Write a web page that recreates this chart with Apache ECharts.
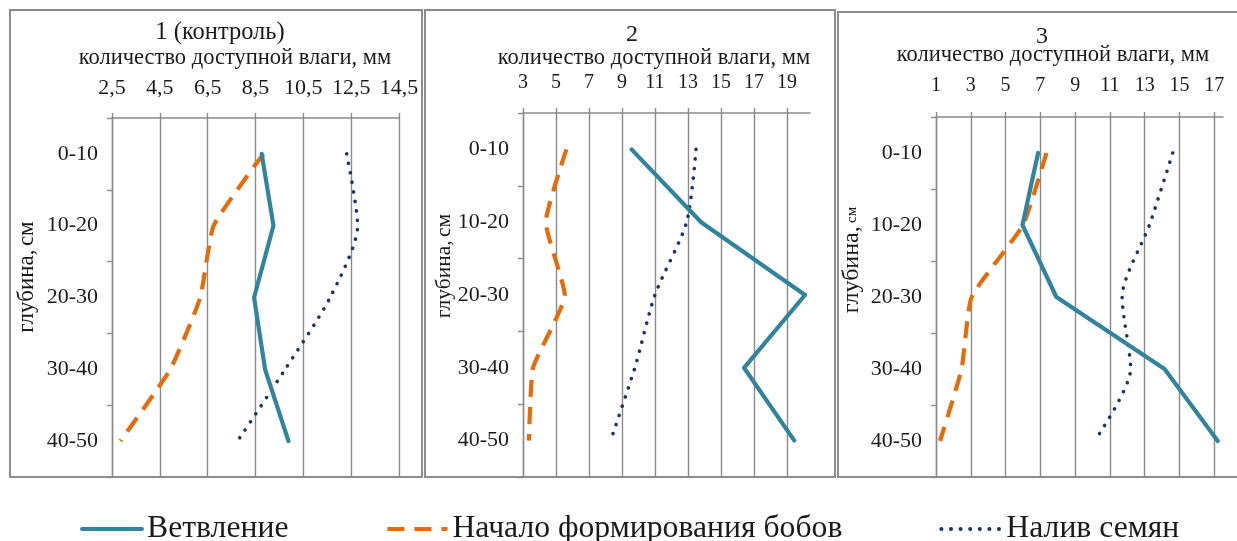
<!DOCTYPE html>
<html><head><meta charset="utf-8">
<script src="https://cdn.jsdelivr.net/npm/echarts@6/dist/echarts.min.js"></script>
<style>html,body{margin:0;padding:0;background:#fff}#c{width:1237px;height:541px}</style>
</head><body><div id="c"></div>
<script>
const depths = ['0-10', '10-20', '20-30', '30-40', '40-50'];
const seriesNames = ['Ветвление', 'Начало формирования бобов', 'Налив семян'];
const panelTitles = ['1 (контроль)', '2', '3'];
const axisTitle = 'количество доступной влаги, мм';
const depthWord = 'глубина,';
const depthUnit = 'см';

// panel 1 (контроль)
const p1Branch = [8.76, 9.25, 8.44, 8.9, 9.88];
const p1Pods = [8.83, 6.75, 6.19, 4.94, 2.85];
const p1Fill = [12.31, 12.77, 11.62, 9.74, 7.75];
const p1Ticks = [2.5, 4.5, 6.5, 8.5, 10.5, 12.5, 14.5];
// panel 2
const p2Branch = [9.58, 13.8, 20.1, 16.4, 19.45];
const p2Pods = [5.63, 4.38, 5.53, 3.61, 3.36];
const p2Fill = [13.49, 12.92, 11.0, 9.78, 8.31];
const p2Ticks = [3, 5, 7, 9, 11, 13, 15, 17, 19];
// panel 3
const p3Branch = [6.87, 5.97, 7.92, 14.14, 17.2];
const p3Pods = [7.35, 6.0, 3.05, 2.47, 1.23];
const p3Fill = [14.61, 13.27, 11.7, 12.19, 10.12];
const p3Ticks = [1, 3, 5, 7, 9, 11, 13, 15, 17];
const axisMax = [14.5, 20.4, 17.5];

const panels = [
  { ticks: p1Ticks, data: [p1Branch, p1Pods, p1Fill] },
  { ticks: p2Ticks, data: [p2Branch, p2Pods, p2Fill] },
  { ticks: p3Ticks, data: [p3Branch, p3Pods, p3Fill] }
];

const SERIF = '"Liberation Serif", "DejaVu Serif", serif';
const GRID_C = '#8a8a8a';
const TXT = '#1a1a1a';

const grids = [
  { left: 112, top: 118, width: 287, height: 359 },
  { left: 523, top: 113, width: 287, height: 364 },
  { left: 936, top: 117, width: 287, height: 360 }
];
const labelMargins = [19, 20, 21];
const tickFont = [22, 20, 20];
const catFont = [22, 22, 22];

const lineStyles = [
  { color: '#31849b', width: 4.2, type: 'solid', cap: 'round', join: 'round' },
  { color: '#e46c0a', width: 4.2, type: [17, 10], cap: 'butt', join: 'round' },
  { color: '#1c3560', width: 3.6, type: [0.1, 9.5], cap: 'round', join: 'round' }
];
const smooths = [false, 0.15, 0.25];

const xAxes = panels.map((p, i) => ({
  type: 'value', gridIndex: i, position: 'top',
  min: p.ticks[0], max: axisMax[i], interval: 2,
  axisLine: { show: true, lineStyle: { color: GRID_C, width: 1.6 } },
  axisTick: { show: true, inside: false, length: 5, customValues: p.ticks, lineStyle: { color: GRID_C, width: 1.4 } },
  axisLabel: {
    customValues: p.ticks, margin: labelMargins[i], color: TXT,
    fontFamily: SERIF, fontSize: tickFont[i],
    formatter: v => String(v).replace('.', ',')
  },
  splitLine: { show: true, showMinLine: true, showMaxLine: true, lineStyle: { color: GRID_C, width: 1.4 } }
}));

const yAxes = panels.map((p, i) => ({
  type: 'category', gridIndex: i, data: depths, inverse: true, boundaryGap: true,
  axisLine: { show: true, lineStyle: { color: GRID_C, width: 1.4 } },
  axisTick: { show: true, length: 5, lineStyle: { color: GRID_C, width: 1.4 } },
  axisLabel: { margin: 14, color: TXT, fontFamily: SERIF, fontSize: catFont[i] },
  splitLine: { show: false }
}));

const series = [];
panels.forEach((p, i) => {
  p.data.forEach((vals, k) => {
    series.push({
      type: 'line', name: seriesNames[k], xAxisIndex: i, yAxisIndex: i,
      data: vals, symbol: 'none', smooth: smooths[k], clip: false,
      lineStyle: lineStyles[k], itemStyle: { color: lineStyles[k].color, opacity: 0 },
      z: 3 + (k === 0 ? 1 : 0)
    });
  });
});

function txt(text, x, y, size, extra) {
  return Object.assign({
    type: 'text', x: x, y: y, silent: true,
    style: { text: text, font: size + 'px ' + SERIF, fill: TXT,
      textAlign: 'center', textVerticalAlign: 'middle', align: 'center', verticalAlign: 'middle' }
  }, extra || {});
}
function depthLabel(x, y, size, unitSize) {
  return {
    type: 'text', x: x, y: y, rotation: Math.PI / 2, silent: true,
    style: {
      text: '{a|' + depthWord + '} {b|' + depthUnit + '}',
      textAlign: 'center', textVerticalAlign: 'middle', align: 'center', verticalAlign: 'middle',
      rich: {
        a: { fontFamily: SERIF, fontSize: size, fill: TXT, color: TXT },
        b: { fontFamily: SERIF, fontSize: unitSize, fill: TXT, color: TXT }
      }
    }
  };
}

const frames = [
  [10, 10, 412, 467], [425, 10, 410, 467], [838, 12, 402, 465]
].map(r => ({
  type: 'rect', silent: true, z: -1,
  shape: { x: r[0], y: r[1], width: r[2], height: r[3] },
  style: { fill: 'none', stroke: '#8c8c8c', lineWidth: 2 }
}));

const option = {
  backgroundColor: '#ffffff',
  animation: false,
  grid: grids.map(g => Object.assign({ containLabel: false }, g)),
  xAxis: xAxes,
  yAxis: yAxes,
  series: series,
  legend: {
    data: seriesNames, left: 75, top: 508, itemWidth: 60, itemHeight: 14, itemGap: 97,
    itemStyle: { opacity: 0 },
    lineStyle: { width: 4 },
    textStyle: { fontFamily: SERIF, fontSize: 31.7, color: TXT }
  },
  graphic: { elements: frames.concat([
    txt(panelTitles[0], 220, 33, 24.5),
    txt(axisTitle, 235, 58, 22.5),
    txt(panelTitles[1], 632, 35, 24),
    txt(axisTitle, 654, 58, 22.5),
    txt(panelTitles[2], 1042, 37, 24),
    txt(axisTitle, 1053, 55, 22.5),
    depthLabel(27, 277, 23, 23),
    depthLabel(444, 266, 21.5, 21.5),
    depthLabel(852, 260, 24, 15)
  ]) }
};

const chart = echarts.init(document.getElementById('c'), null, { renderer: 'canvas' });
chart.setOption(option);
</script>
</body></html>
